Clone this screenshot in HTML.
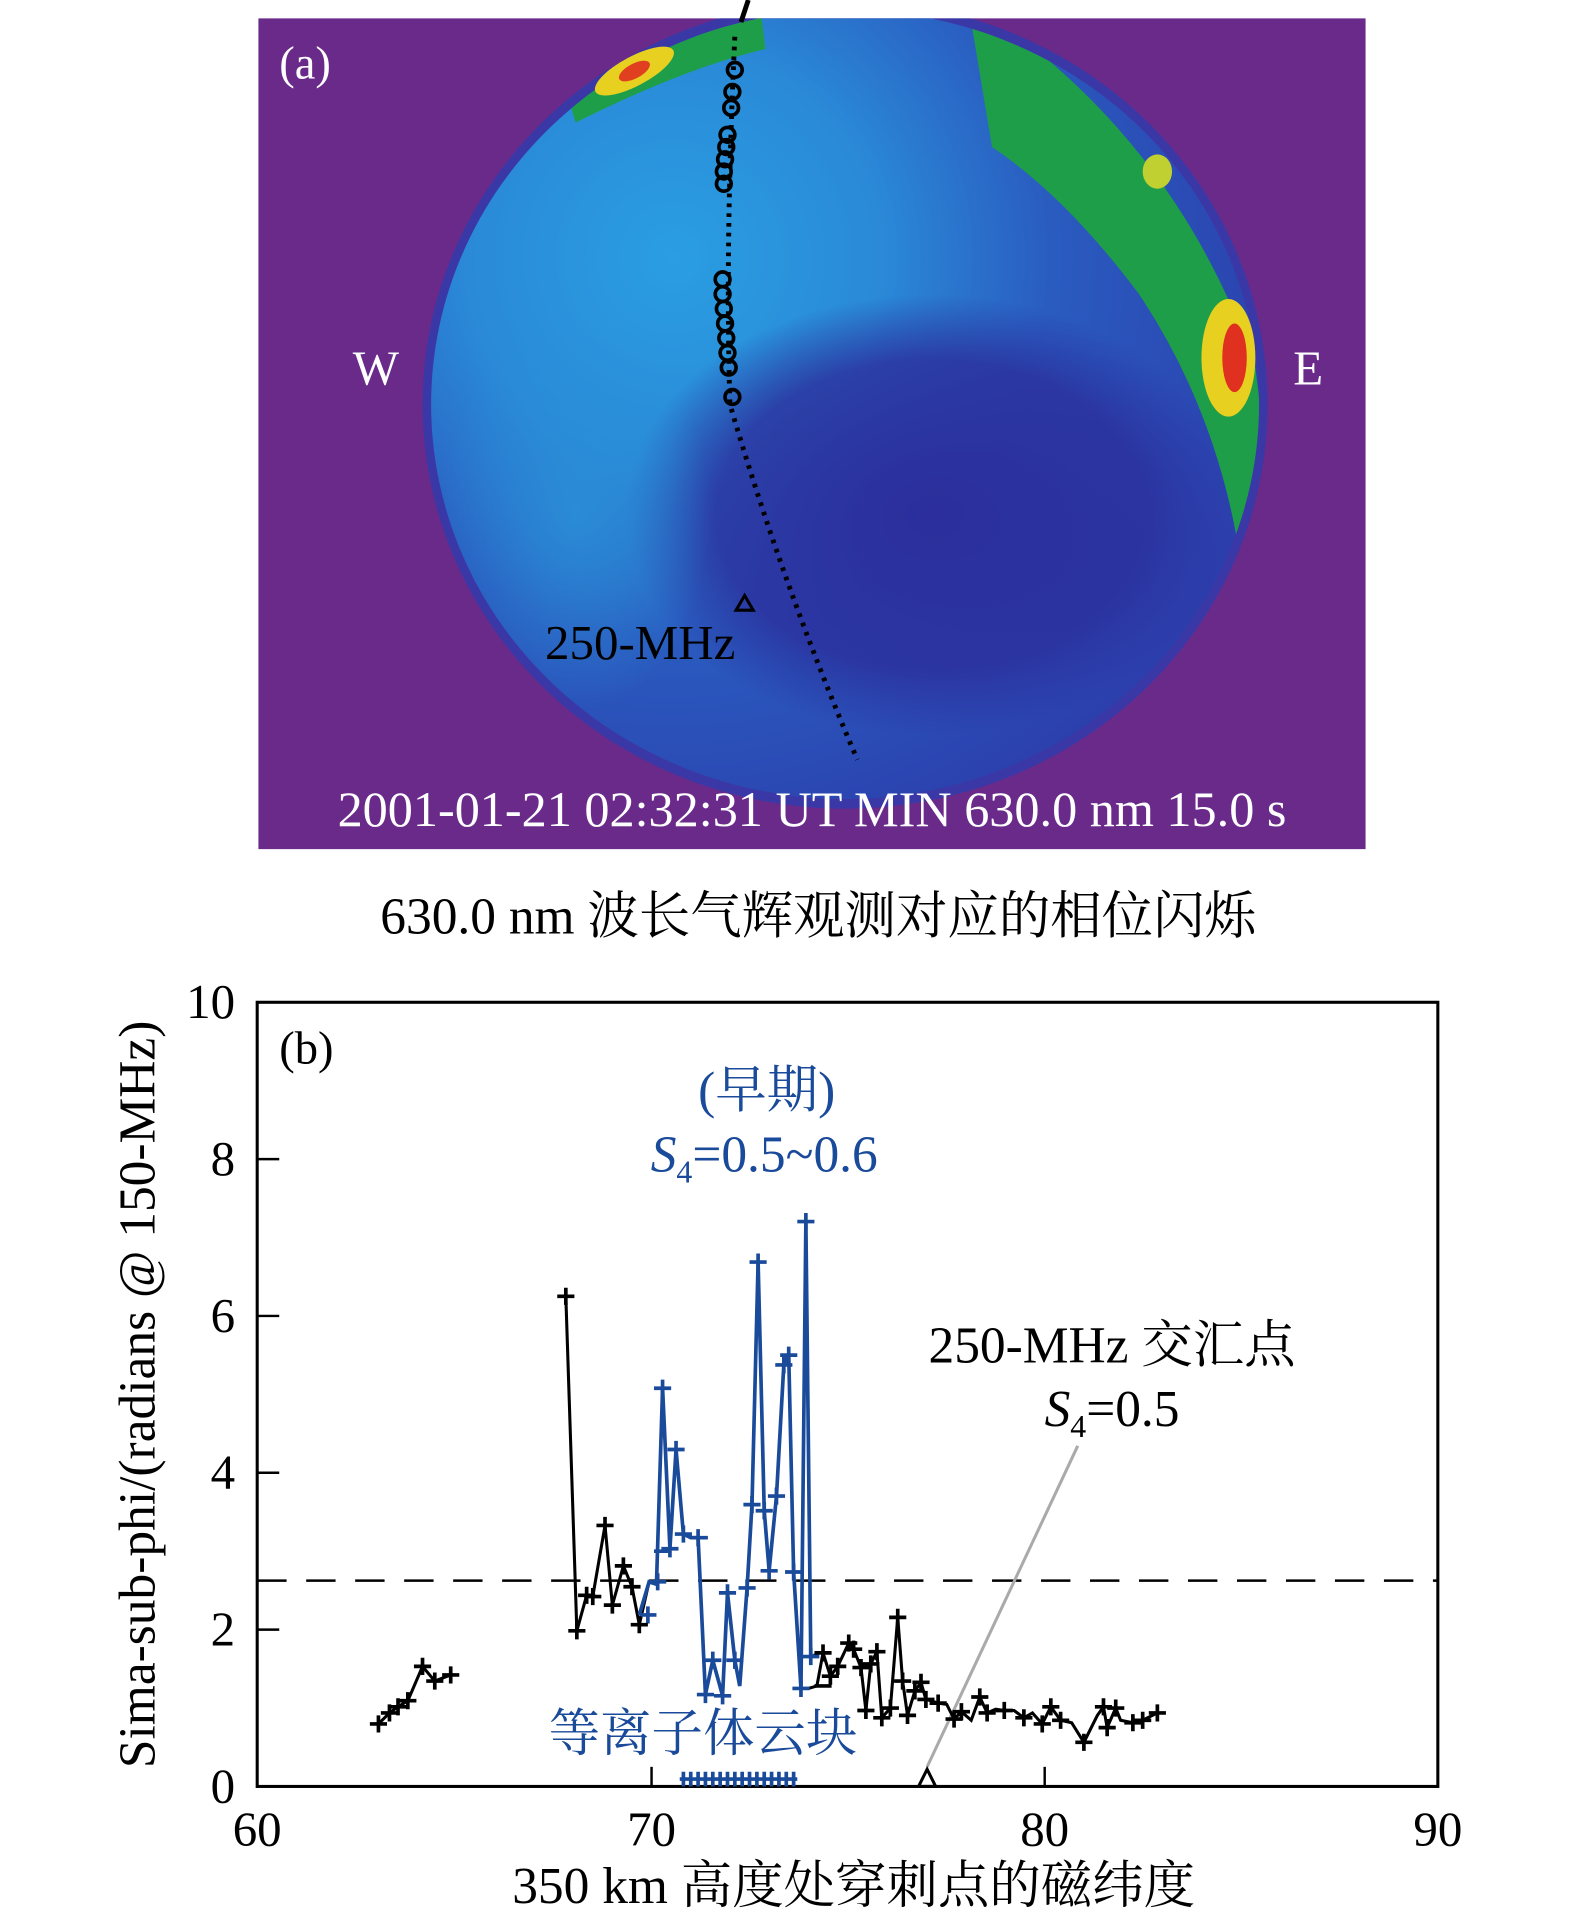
<!DOCTYPE html>
<html><head><meta charset="utf-8"><style>
html,body{margin:0;padding:0;background:#fff;}
svg{display:block;}
text{font-family:"Liberation Serif","Noto Serif CJK SC",serif;}
</style></head><body>
<svg width="1575" height="1920" viewBox="0 0 1286 1567" preserveAspectRatio="none" xmlns="http://www.w3.org/2000/svg">
<defs>
<radialGradient id="sky" cx="0.3" cy="0.3" r="0.8">
<stop offset="0" stop-color="#2a9ee2"/>
<stop offset="0.3" stop-color="#2a8ad8"/>
<stop offset="0.55" stop-color="#2a5cc0"/>
<stop offset="1" stop-color="#2c38a8"/>
</radialGradient>
<radialGradient id="dark" cx="0.5" cy="0.5" r="0.5">
<stop offset="0" stop-color="#2b2e9c"/>
<stop offset="0.7" stop-color="#2b2e9c" stop-opacity="0.8"/>
<stop offset="1" stop-color="#2b2e9c" stop-opacity="0"/>
</radialGradient>
<radialGradient id="lb" cx="0.5" cy="0.5" r="0.5">
<stop offset="0" stop-color="#2a90d8" stop-opacity="0.8"/>
<stop offset="1" stop-color="#2a90d8" stop-opacity="0"/>
</radialGradient>
<clipPath id="pc"><rect x="211" y="15" width="904" height="678"/></clipPath>
<clipPath id="cc"><ellipse cx="690" cy="330" rx="338" ry="322"/></clipPath>
</defs>
<rect x="211" y="15" width="904" height="678" fill="#6a2a8a"/>
<g clip-path="url(#pc)">
<ellipse cx="690" cy="330" rx="345" ry="330" fill="#3a38a6"/>
<g clip-path="url(#cc)">
<rect x="340" y="0" width="700" height="700" fill="url(#sky)"/>
<ellipse cx="760" cy="420" rx="250" ry="180" fill="url(#dark)"/>
<ellipse cx="470" cy="420" rx="110" ry="160" fill="url(#lb)"/>
<path d="M790 0 Q960 110 1025 300 L1040 420 L1010 440 Q990 330 930 240 Q870 160 810 120 Z" fill="#1f9e4a"/>
<path d="M440 0 L620 0 L625 40 Q560 55 470 100 Z" fill="#1f9e4a"/>
</g>
<ellipse cx="1003" cy="292" rx="22" ry="48" fill="#e8d020"/>
<ellipse cx="1008" cy="292" rx="10" ry="28" fill="#e03020"/>
<ellipse cx="518" cy="58" rx="36" ry="12" fill="#e8d020" transform="rotate(-28 518 58)"/>
<ellipse cx="518" cy="58" rx="14" ry="6" fill="#e04020" transform="rotate(-28 518 58)"/>
<ellipse cx="945" cy="140" rx="12" ry="14" fill="#c0d030"/>
<path d="M600 30 Q592 200 596 330 Q640 480 700 620" fill="none" stroke="#000" stroke-width="4" stroke-dasharray="3 5"/>
<g fill="none" stroke="#000" stroke-width="3">
<circle cx="600" cy="57" r="6"/><circle cx="598" cy="75" r="6"/><circle cx="597" cy="88" r="6"/>
<circle cx="594" cy="110" r="6"/><circle cx="593" cy="120" r="6"/><circle cx="592" cy="130" r="6"/><circle cx="591" cy="140" r="6"/><circle cx="591" cy="150" r="6"/>
<circle cx="590" cy="228" r="6"/><circle cx="590" cy="240" r="6"/><circle cx="591" cy="252" r="6"/><circle cx="592" cy="264" r="6"/><circle cx="593" cy="276" r="6"/><circle cx="594" cy="288" r="6"/><circle cx="595" cy="300" r="6"/><circle cx="598" cy="324" r="6"/>
</g>
</g>
<line x1="611" y1="0" x2="605" y2="18" stroke="#000" stroke-width="4"/>
<text x="228" y="64" font-size="38" fill="#fff">(a)</text>
<text x="288" y="314" font-size="40" fill="#fff">W</text>
<text x="1056" y="314" font-size="40" fill="#fff">E</text>
<path d="M601 498 L608 486 L615 498 Z" fill="none" stroke="#000" stroke-width="2.5"/>
<text x="445" y="538" font-size="40" fill="#000">250-MHz</text>
<text x="663" y="674" font-size="41" fill="#fff" text-anchor="middle">2001-01-21 02:32:31 UT MIN 630.0 nm 15.0 s</text>
<text x="668" y="762" font-size="42" fill="#000" text-anchor="middle">630.0 nm 波长气辉观测对应的相位闪烁</text>
<rect x="210" y="818" width="964" height="640" fill="none" stroke="#000" stroke-width="2.5"/>
<g stroke="#000" stroke-width="2">
<line x1="210" y1="946" x2="228" y2="946"/><line x1="210" y1="1074" x2="228" y2="1074"/><line x1="210" y1="1202" x2="228" y2="1202"/><line x1="210" y1="1330" x2="228" y2="1330"/>
<line x1="532" y1="1458" x2="532" y2="1442"/><line x1="853" y1="1458" x2="853" y2="1442"/>
</g>
<g font-size="40" fill="#000" text-anchor="end">
<text x="192" y="831">10</text><text x="192" y="959">8</text><text x="192" y="1087">6</text><text x="192" y="1215">4</text><text x="192" y="1343">2</text><text x="192" y="1471">0</text>
</g>
<g font-size="40" fill="#000" text-anchor="middle">
<text x="210" y="1506">60</text><text x="532" y="1506">70</text><text x="853" y="1506">80</text><text x="1174" y="1506">90</text>
</g>
<text x="697" y="1553" font-size="42" text-anchor="middle">350 km 高度处穿刺点的磁纬度</text>
<text transform="translate(126 1138) rotate(-90)" font-size="42" text-anchor="middle">Sima-sub-phi/(radians @ 150-MHz)</text>
<text x="228" y="868" font-size="38">(b)</text>
<line x1="210" y1="1290" x2="1174" y2="1290" stroke="#000" stroke-width="2" stroke-dasharray="24 16"/>
<text x="626" y="904" font-size="42" fill="#1a4a9a" text-anchor="middle">(早期)</text>
<text x="624" y="956" font-size="42" fill="#1a4a9a" text-anchor="middle"><tspan font-style="italic">S</tspan><tspan font-size="26" dy="9">4</tspan><tspan dy="-9">=0.5~0.6</tspan></text>
<text x="908" y="1112" font-size="42" text-anchor="middle">250-MHz 交汇点</text>
<text x="908" y="1164" font-size="42" text-anchor="middle"><tspan font-style="italic">S</tspan><tspan font-size="26" dy="9">4</tspan><tspan dy="-9">=0.5</tspan></text>
<line x1="757" y1="1442" x2="880" y2="1180" stroke="#aaa" stroke-width="2.5"/>
<path d="M750 1458 L757 1444 L764 1458 Z" fill="none" stroke="#000" stroke-width="2.5"/>
<text x="574" y="1429" font-size="42" fill="#1a4a9a" text-anchor="middle">等离子体云块</text>
<g fill="none" stroke="#000" stroke-width="2.5">
<polyline points="309,1407 318,1398 325,1393 333,1388 345,1360 355,1372 368,1367"/>
<polyline points="462,1058 471,1331 479,1302 484,1303 494,1245 500,1310 509,1278 516,1295 522,1326 530,1291"/>
<polyline points="654,1378 660,1378 667,1376 672,1349 678,1368 684,1360 693,1341 697,1346 703,1361 707,1396 711,1358 716,1348 720,1402 727,1394 733,1320 737,1372 741,1400 747,1380 752,1373 756,1387 760,1388 766,1390 773,1391 779,1403 785,1397 793,1404 800,1385 806,1398 813,1395 820,1396 828,1396 836,1402 843,1398 851,1407 858,1393 866,1404 875,1406 885,1422 896,1400 901,1393 904,1410 911,1394 915,1404 925,1406 933,1404 945,1398"/>
</g>
<g fill="none" stroke="#1a4a9a" stroke-width="3">
<polyline points="522,1318 530,1291 536,1293 541,1133 547,1264 552,1183 558,1252 564,1255 570,1255 576,1383 582,1355 590,1384 594,1300 600,1355 604,1376 610,1296 614,1228 619,1030 624,1233 628,1282 634,1221 640,1114 644,1106 648,1283 654,1378 658,997 662,1352 668,1350"/>
</g>
<g stroke="#1a4a9a" stroke-width="3" fill="none">
<path d="M522 1318h14M529 1311v14M530 1291h14M537 1284v14M534 1266h14M541 1126v14M534 1133h14M540 1264h14M547 1257v14M545 1183h14M552 1176v14M551 1252h14M558 1245v14M564 1255h14M570 1248v14M569 1383h14M576 1376v14M575 1355h14M582 1348v14M583 1384h14M590 1377v14M587 1300h14M594 1293v14M593 1355h14M600 1348v14M603 1296h14M610 1289v14M607 1228h14M614 1221v14M612 1030h14M619 1023v14M617 1233h14M624 1226v14M621 1282h14M628 1275v14M627 1221h14M634 1214v14M633 1114h14M640 1107v14M637 1106h14M644 1099v14M641 1283h14M648 1276v14M647 1378h14M654 1371v14M651 997h14M658 990v14M655 1352h14M662 1345v14"/>
<path d="M555 1452h96"/>
<path d="M558 1446v12M564 1446v12M570 1446v12M576 1446v12M582 1446v12M588 1446v12M594 1446v12M600 1446v12M606 1446v12M612 1446v12M618 1446v12M624 1446v12M630 1446v12M636 1446v12M642 1446v12M648 1446v12"/>
</g>
<g stroke="#000" stroke-width="3" fill="none">
<path d="M302 1407h14M309 1400v14M311 1398h14M318 1391v14M318 1393h14M325 1386v14M326 1388h14M333 1381v14M338 1360h14M345 1353v14M348 1372h14M355 1365v14M361 1367h14M368 1360v14M455 1058h14M462 1051v14M464 1331h14M471 1324v14M472 1302h14M479 1295v14M477 1303h14M484 1296v14M487 1245h14M494 1238v14M493 1310h14M500 1303v14M502 1278h14M509 1271v14M509 1295h14M516 1288v14M515 1326h14M522 1319v14M665 1376h14M672 1342v14M665 1349h14M678 1361v14M671 1368h14M684 1353v14M677 1360h14M693 1334v14M686 1341h14M697 1339v14M690 1346h14M703 1354v14M696 1361h14M707 1389v14M700 1396h14M711 1351v14M704 1358h14M716 1341v14M709 1348h14M720 1395v14M713 1402h14M727 1387v14M720 1394h14M733 1313v14M726 1320h14M737 1365v14M730 1372h14M741 1393v14M734 1400h14M747 1373v14M740 1380h14M752 1366v14M745 1373h14M756 1380v14M749 1387h14M766 1383v14M759 1390h14M779 1396v14M772 1403h14M785 1390v14M778 1397h14M800 1378v14M793 1385h14M806 1391v14M799 1398h14M820 1389v14M813 1396h14M836 1395v14M829 1402h14M851 1400v14M844 1407h14M858 1386v14M851 1393h14M866 1397v14M859 1404h14M885 1415v14M878 1422h14M901 1386v14M894 1393h14M904 1403v14M897 1410h14M911 1387v14M904 1394h14M925 1399v14M918 1406h14M933 1397v14M926 1404h14M945 1391v14M938 1398h14"/>
</g>
</svg>
</body></html>
